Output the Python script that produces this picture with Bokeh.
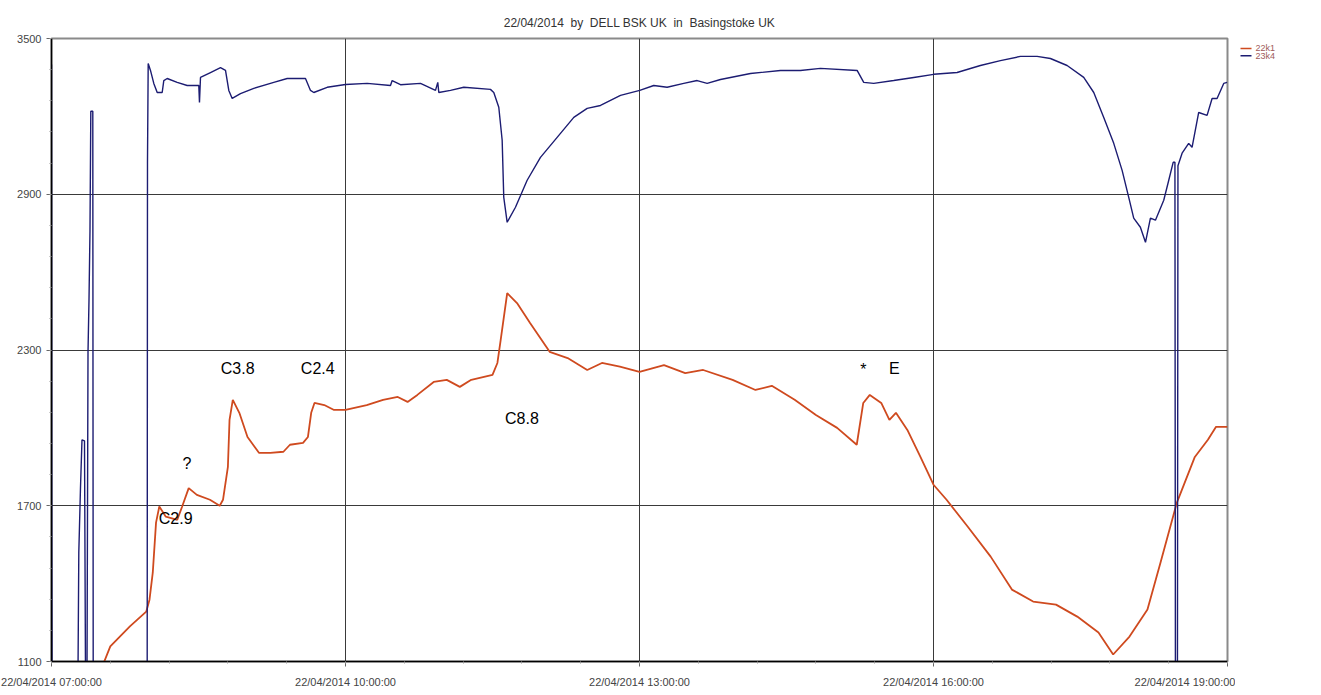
import pandas as pd
from bokeh.plotting import figure
from bokeh.layouts import row
from bokeh.models import (FixedTicker, DatetimeTickFormatter, ColumnDataSource, Range1d)
from bokeh.core.properties import value
from bokeh.embed import file_html
from bokeh.resources import INLINE

DATE = "2014-04-22"

# ---- data ----
red_times = ["07:32", "07:36", "07:48", "07:58", "08:00", "08:02", "08:04", "08:06", "08:10", "08:17",
             "08:20", "08:24", "08:29", "08:37", "08:43", "08:45", "08:48", "08:49", "08:51", "08:55",
             "09:00", "09:07", "09:14", "09:22", "09:26", "09:34", "09:37", "09:39", "09:41", "09:47",
             "09:53", "10:00", "10:13", "10:23", "10:32", "10:38", "10:44", "10:54", "11:02", "11:10",
             "11:17", "11:30", "11:33", "11:35", "11:39", "11:45", "11:53", "12:05", "12:16", "12:28",
             "12:37", "12:48", "13:00", "13:15", "13:28", "13:39", "13:57", "14:11", "14:21", "14:35",
             "14:48", "15:01", "15:13", "15:17", "15:21", "15:28", "15:33", "15:37", "15:44", "15:52",
             "16:00", "16:08", "16:21", "16:35", "16:48", "17:01", "17:15", "17:28", "17:41", "17:50",
             "18:00", "18:11", "18:19", "18:29", "18:40", "18:48", "18:53", "19:00"]
red_values = [1095, 1158, 1235, 1292, 1338, 1442, 1635, 1697, 1658, 1646,
              1697, 1768, 1742, 1723, 1700, 1723, 1850, 2031, 2108, 2058,
              1965, 1904, 1904, 1908, 1935, 1942, 1965, 2058, 2096, 2088,
              2069, 2069, 2088, 2108, 2119, 2100, 2127, 2177, 2185, 2158,
              2185, 2204, 2250, 2338, 2519, 2481, 2404, 2293, 2269, 2223,
              2250, 2236, 2216, 2242, 2211, 2223, 2185, 2146, 2162, 2108,
              2050, 2000, 1935, 2096, 2127, 2096, 2031, 2058, 1992, 1888,
              1781, 1723, 1619, 1504, 1377, 1331, 1319, 1273, 1212, 1127,
              1196, 1300, 1481, 1712, 1888, 1954, 2004, 2004]

blue_times = ["07:00:00", "07:00:10", "07:00:20", "07:16:13", "07:16:43", "07:17:08", "07:17:45",
              "07:18:40", "07:20:12", "07:20:49", "07:21:44", "07:22:21", "07:22:57", "07:23:34",
              "07:24:04", "07:25:17", "07:25:32", "07:58:35", "07:58:46", "07:59:12", "08:00:36",
              "08:02:38", "08:04:43", "08:07:46", "08:08:45", "08:10:50", "08:16:57", "08:23:04",
              "08:30:11", "08:30:36", "08:31:13", "08:37:20", "08:43:28", "08:46:32", "08:48:33",
              "08:50:38", "08:55:42", "09:03:51", "09:16:06", "09:24:18", "09:35:30", "09:38:34",
              "09:40:35", "09:48:47", "10:00:00", "10:13:17", "10:27:32", "10:28:34", "10:33:40",
              "10:45:55", "10:55:06", "10:56:30", "10:57:07", "11:04:17", "11:12:26", "11:28:45",
              "11:30:47", "11:33:51", "11:35:55", "11:36:54", "11:38:59", "11:44:04", "11:51:13",
              "11:59:22", "12:09:35", "12:19:46", "12:27:58", "12:36:07", "12:48:22", "13:00:10",
              "13:08:44", "13:16:55", "13:27:06", "13:35:18", "13:41:25", "13:49:34", "14:07:56",
              "14:26:17", "14:38:31", "14:50:46", "15:13:14", "15:17:17", "15:23:24", "15:35:38",
              "15:47:53", "16:00:07", "16:14:26", "16:28:43", "16:40:58", "16:53:13", "17:03:26",
              "17:11:35", "17:21:48", "17:31:59", "17:38:07", "17:44:14", "17:50:21", "17:55:29",
              "17:59:32", "18:02:35", "18:06:40", "18:09:47", "18:12:49", "18:15:53", "18:20:58",
              "18:24:02", "18:26:44", "18:27:49", "18:28:07", "18:29:21", "18:29:40", "18:32:12",
              "18:36:14", "18:38:18", "18:42:22", "18:47:30", "18:50:34", "18:53:37", "18:57:41",
              "18:59:47"]
blue_values = [3400, 1620, 1050, 1050, 1520, 1620, 1770,
               1954, 1950, 1050, 1050, 2290, 2490, 2760,
               3220, 3220, 1050, 1050, 3019, 3404, 3377,
               3327, 3292, 3292, 3338, 3346, 3331, 3319,
               3319, 3254, 3350, 3369, 3388, 3377, 3300,
               3269, 3288, 3308, 3331, 3346, 3346, 3300,
               3292, 3312, 3323, 3327, 3319, 3338, 3322,
               3327, 3300, 3331, 3292, 3300, 3312, 3304,
               3292, 3235, 3108, 2888, 2792, 2850, 2954,
               3042, 3119, 3196, 3231, 3242, 3281, 3300,
               3319, 3312, 3327, 3338, 3327, 3342, 3365,
               3377, 3377, 3385, 3377, 3331, 3327, 3338,
               3350, 3362, 3369, 3396, 3415, 3431, 3431,
               3423, 3396, 3350, 3292, 3196, 3096, 2992,
               2888, 2808, 2773, 2715, 2808, 2800, 2877,
               2954, 3023, 3023, 1050, 1050, 3010, 3058,
               3096, 3081, 3215, 3204, 3269, 3269, 3327,
               3331]

note_labels = ["C2.9", "?", "C3.8", "C2.4", "C8.8", "*", "E"]
note_times = ["08:16", "08:23", "08:54", "09:43", "11:48", "15:17", "15:36"]
note_values = [1650, 1862, 2227, 2227, 2038, 2223, 2227]

series_names = ["22k1", "23k4"]
y_ticks = [1100, 1700, 2300, 2900, 3500]
x_tick_times = ["07:00", "10:00", "13:00", "16:00", "19:00"]
NB = "\u00a0"
title_text = f"22/04/2014 {NB}by {NB}DELL BSK UK {NB}in {NB}Basingstoke UK"

RED = "#cf4a1f"
BLUE = "#1c1c72"
FONT = "Liberation Sans"

W, H = 1235, 690
BL, BR, BT, BB = 51, 8, 38, 28
LW = 70


def ts(t):
    return pd.Timestamp(f"{DATE} {t}")


def ms(t):
    return ts(t).value // 10**6


red_src = ColumnDataSource(dict(x=[ts(t) for t in red_times], y=red_values))
blue_src = ColumnDataSource(dict(x=[ts(t) for t in blue_times], y=blue_values))
note_src = ColumnDataSource(dict(x=[ts(t) for t in note_times], y=note_values, t=note_labels))

x0, x1 = ts(x_tick_times[0]), ts(x_tick_times[-1])
p = figure(width=W, height=H, x_axis_type="datetime",
           x_range=Range1d(x0, x1), y_range=Range1d(y_ticks[0], y_ticks[-1]),
           output_backend="svg", toolbar_location=None,
           min_border_left=BL, min_border_right=BR, min_border_top=BT, min_border_bottom=BB)

p.title.text = title_text
p.title.align = "center"
p.title.text_font = FONT
p.title.text_font_size = "12px"
p.title.text_font_style = "normal"
p.title.text_color = "#333333"
p.title.standoff = 17

p.background_fill_color = "white"
p.border_fill_color = "white"
p.outline_line_color = "#8a8a8a"
p.outline_line_width = 2

# ticks
major_ms = [ms(t) for t in x_tick_times]
step = (major_ms[1] - major_ms[0]) / 5
minor_x = [major_ms[0] + i * step for i in range(int(round((major_ms[-1] - major_ms[0]) / step)) + 1)]
p.xaxis.ticker = FixedTicker(ticks=major_ms, minor_ticks=minor_x)
fmt = "%d/%m/%Y %H:%M:%S"
p.xaxis.formatter = DatetimeTickFormatter(microseconds=fmt, milliseconds=fmt, seconds=fmt,
                                          minsec=fmt, minutes=fmt, hourmin=fmt, hours=fmt,
                                          days=fmt, months=fmt, years=fmt)
ystep = (y_ticks[1] - y_ticks[0]) / 5
minor_y = [y_ticks[0] + i * ystep for i in range(21)]
p.yaxis.ticker = FixedTicker(ticks=y_ticks, minor_ticks=minor_y)

for ax in (p.xaxis[0], p.yaxis[0]):
    ax.axis_line_color = "black"
    ax.axis_line_width = 1.5
    ax.major_tick_in = 0
    ax.major_tick_out = 5
    ax.minor_tick_in = 0
    ax.minor_tick_out = 2
    ax.major_tick_line_color = "#666666"
    ax.minor_tick_line_color = "#999999"
    ax.major_label_text_font = FONT
    ax.major_label_text_font_size = "11px"
    ax.major_label_text_color = "#444444"
p.xaxis.major_label_standoff = 9
p.yaxis.major_label_standoff = 5

p.xgrid.grid_line_color = "#3a3a3a"
p.ygrid.grid_line_color = "#3a3a3a"
p.xgrid.grid_line_width = 1
p.ygrid.grid_line_width = 1

p.line("x", "y", source=red_src, color=RED, line_width=1.8)
p.line("x", "y", source=blue_src, color=BLUE, line_width=1.4)

p.text("x", "y", text="t", source=note_src, text_font=value(FONT), text_font_size="16px",
       text_color="black", text_align="center", text_baseline="middle")

# ---- legend panel on the right (a plain pixel-scaled strip, no axes) ----
lg = figure(width=LW, height=H, x_range=Range1d(0, LW), y_range=Range1d(0, H),
            output_backend="svg", toolbar_location=None, min_border=0,
            x_axis_location=None, y_axis_location=None)
lg.grid.visible = False
lg.outline_line_color = None
lg.border_fill_color = "white"
lg.background_fill_color = "white"
row_y = [H - 11, H - 19]
lg.segment(x0=[5, 5], y0=row_y, x1=[16, 16], y1=row_y, color=[RED, BLUE], line_width=1.5)
lg.text(x=[20, 20], y=row_y, text=series_names, text_font=value(FONT), text_font_size="9px",
        text_color="#a05a5a", text_align="left", text_baseline="middle")

layout = row(p, lg, spacing=0)
open("out.html", "w").write(file_html(layout, INLINE))
